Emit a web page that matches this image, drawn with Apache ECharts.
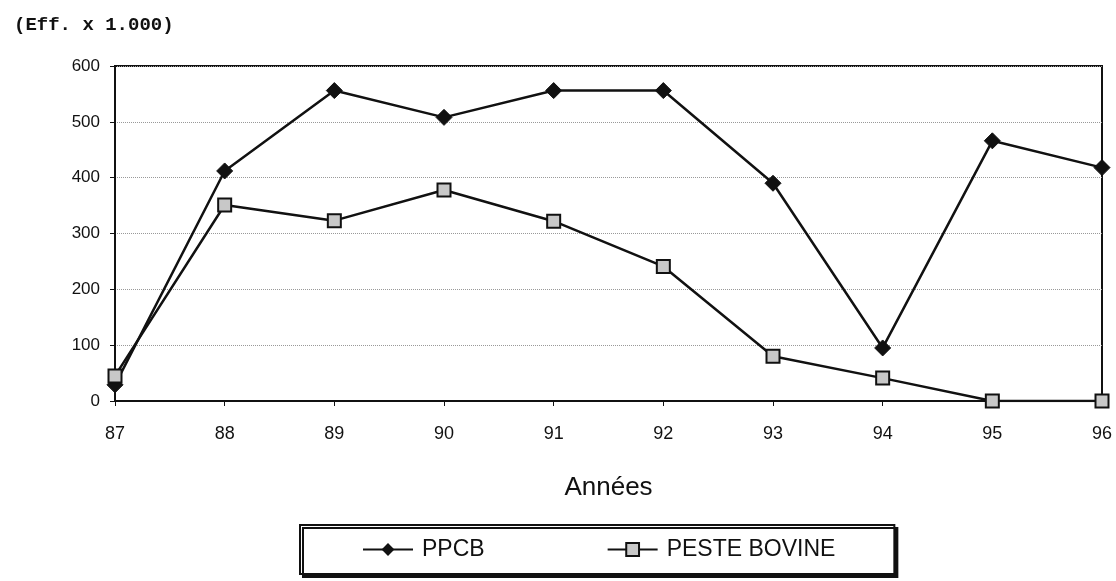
<!DOCTYPE html>
<html>
<head>
<meta charset="utf-8">
<script src="https://cdn.jsdelivr.net/npm/echarts@6/dist/echarts.min.js"></script>
<style>
  html, body { margin: 0; padding: 0; background: #fff; }
  #chart { width: 1116px; height: 581px; }
</style>
</head>
<body>
<div id="chart"></div>
<script>
// values (Eff. x 1.000)
const years = ["87", "88", "89", "90", "91", "92", "93", "94", "95", "96"];
const ppcb = [29, 412, 556, 508, 556, 556, 390, 95, 466, 418];
const pesteBovine = [45, 351, 323, 378, 322, 241, 80, 41, 0, 0];

const font = "Liberation Sans";

const chart = echarts.init(document.getElementById("chart"));
const option = {
    backgroundColor: "#fff",
    animation: false,
    title: {
        text: "(Eff. x 1.000)",
        left: 9,
        top: 11,
        textStyle: {
            fontFamily: "Liberation Mono",
            fontWeight: "bold",
            fontSize: 19,
            color: "#111",
        },
    },
    grid: {
        left: 115,
        right: 14,
        top: 66,
        bottom: 180,
        show: true,
        borderColor: "#111",
        borderWidth: 2,
    },
    xAxis: {
        type: "category",
        data: years,
        boundaryGap: false,
        name: "Années",
        nameLocation: "middle",
        nameGap: 74,
        nameTextStyle: { fontFamily: font, fontSize: 26, color: "#111" },
        axisLine: { lineStyle: { color: "#111", width: 2 } },
        axisTick: { show: true, length: 5, lineStyle: { color: "#111" } },
        axisLabel: { fontFamily: font, fontSize: 18, color: "#111", margin: 24 },
        splitLine: { show: false },
    },
    yAxis: {
        type: "value",
        min: 0,
        max: 600,
        interval: 100,
        axisLine: { show: true, lineStyle: { color: "#111", width: 2 } },
        axisTick: { show: true, length: 5, lineStyle: { color: "#111" } },
        axisLabel: { fontFamily: font, fontSize: 17, color: "#111", margin: 15 },
        splitLine: { show: true, lineStyle: { color: "#999", type: "dotted", width: 1 } },
    },
    legend: {
        left: 300,
        top: 525,
        padding: [13, 59, 13, 62],
        itemGap: 122,
        itemWidth: 50,
        itemHeight: 16,
        borderColor: "#111",
        borderWidth: 2,
        backgroundColor: "#fff",
        shadowColor: "#111",
        shadowBlur: 0,
        shadowOffsetX: 3,
        shadowOffsetY: 3,
        textStyle: { fontFamily: font, fontSize: 23, color: "#111", padding: [0, 0, 0, 4] },
        data: ["PPCB", "PESTE BOVINE"],
    },
    series: [
        {
            name: "PPCB",
            type: "line",
            data: ppcb,
            symbol: "diamond",
            symbolSize: 16,
            lineStyle: { color: "#111", width: 2.5 },
            itemStyle: { color: "#111", borderColor: "#111" },
            z: 3,
        },
        {
            name: "PESTE BOVINE",
            type: "line",
            data: pesteBovine,
            symbol: "rect",
            symbolSize: 13,
            lineStyle: { color: "#111", width: 2.5 },
            itemStyle: { color: "#c8c8c8", borderColor: "#111", borderWidth: 2 },
            z: 4,
        },
    ],
};
chart.setOption(option);
</script>
</body>
</html>
